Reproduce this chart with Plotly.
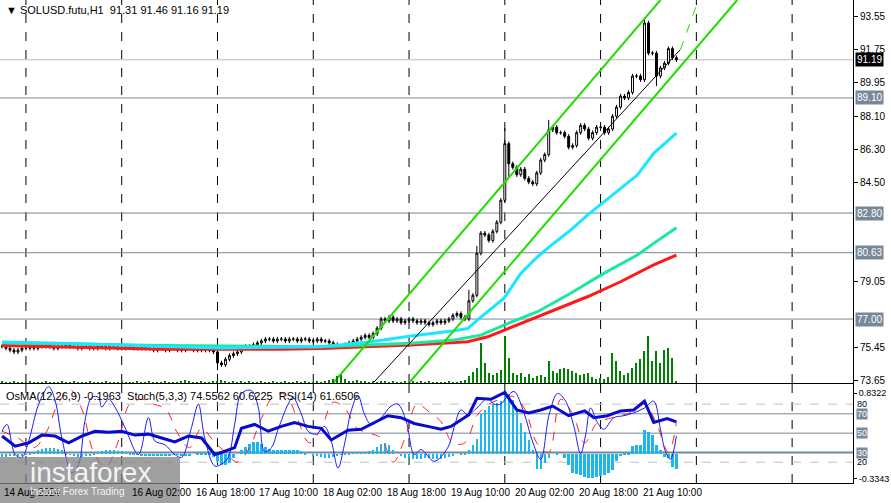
import plotly.graph_objects as go

# ---------------- data ----------------
# hours relative to 21 Aug 00:00 ; bars from t=-150 to t=19
t_start = -150
closes = [
    75.5,75.4,75.3,75.2,75.3,75.4,75.4,75.5,75.4,75.5,
    75.5,75.6,75.5,75.4,75.5,75.5,75.6,75.5,75.5,75.4,
    75.5,75.5,75.4,75.4,75.5,75.5,75.4,75.5,75.5,75.4,
    75.4,75.5,75.5,75.4,75.4,75.5,75.4,75.4,75.3,75.4,
    75.4,75.3,75.4,75.4,75.3,75.3,75.4,75.4,75.3,75.3,
    75.4,75.3,75.3,75.2,
    74.6,74.5,74.8,75.0,75.1,75.2,75.4,75.5,75.5,75.6,
    75.7,75.8,75.9,75.9,75.8,75.9,75.9,75.8,75.9,75.9,
    75.8,75.9,75.9,75.8,75.8,75.9,75.8,75.8,75.7,75.6,
    75.5,75.5,75.6,75.7,75.8,75.9,76.0,76.1,76.0,76.2,
    76.5,77.0,
    76.9,77.1,76.9,77.0,76.8,76.9,77.0,76.9,76.8,76.9,
    76.8,76.7,76.8,76.9,76.8,76.9,77.0,77.2,77.3,77.1,77.0,
    78.0,78.3,80.6,81.7,81.6,81.3,81.8,82.3,83.5,
    86.6,85.5,85.3,84.9,85.2,84.7,84.5,84.4,85.0,
    85.7,86.0,87.35,87.5,87.2,87.2,87.0,86.4,86.5,87.2,
    87.6,87.4,86.9,87.2,87.5,87.5,87.2,87.4,88.1,88.6,
    89.2,89.1,89.4,90.3,90.3,90.1,93.2,91.55,91.55,90.3,
    90.74,91.0,91.8,91.3,91.19,
]
first_open = 75.5
wick = 0.12
spike_highs = {-24: 87.45, 11: 93.45, -31: 81.0, -13: 87.9, -33: 78.6}
spike_lows = {-96: 74.2, -23: 84.8, 14: 89.75}

volumes = [
    2,1,1,2,1,1,1,2,1,1, 1,2,1,1,1,2,1,1,2,1,
    1,1,2,1,1,1,2,1,1,1, 2,1,1,1,2,1,1,2,1,1,
    1,2,1,1,1,2,3,2,1,1, 2,1,1,2,2,3,2,1,2,1,
    2,1,2,1,1,2,1,1,2,1, 1,2,1,1,2,1,2,1,1,2,
    1,2,3,4,7,8,4,2,2,3, 2,2,1,2,1,2,2,1,2,1,
    1,2,1,2,1,2,1,2,1,1,
    1,1,2,1,1,2,3,
    7,11,15,40,20,10,8,10,13,47,25,10,8,10,6,9,5,7,8,6,
    22,12,10,14,15,14,12,10,8,9,10,6,4,5,4,6,30,22,12,8,
    10,15,20,24,32,47,22,32,20,33,35,25,2,
]

osma = [
    -0.04,-0.04,-0.03,-0.03,-0.02,-0.02,-0.01,0.01,0.03,0.05,
    0.07,0.08,0.08,0.08,0.07,0.05,0.02,-0.01,-0.03,-0.04,
    -0.04,-0.03,-0.02,0.01,0.03,0.04,0.05,0.05,0.05,0.04,
    0.04,0.03,0.02,0.01,-0.01,-0.02,-0.03,-0.03,-0.03,-0.03,
    -0.03,-0.02,-0.02,-0.01,-0.01,-0.02,-0.03,-0.02,0.00,0.01,
    0.02,0.02,0.01,-0.04,-0.10,-0.15,-0.15,-0.12,-0.06,0.00,
    0.05,0.10,0.14,0.16,0.16,0.14,0.10,0.07,0.06,0.06,
    0.06,0.06,0.06,0.06,0.05,0.04,0.02,0.00,-0.02,-0.03,
    -0.04,-0.05,-0.05,-0.04,-0.03,-0.01,0.01,0.02,0.03,0.03,
    0.03,0.03,0.04,0.06,0.10,0.14,0.15,0.12,0.06,0.00,
    -0.03,-0.05,-0.06,-0.07,-0.07,-0.07,-0.06,-0.06,-0.07,-0.07,
    -0.07,-0.06,-0.04,-0.02,0.00,0.01,0.02,0.06,0.12,0.20,
    0.55,0.60,0.66,0.68,0.70,0.72,0.86,0.82,0.74,0.60,
    0.42,0.30,0.19,0.05,-0.20,-0.20,-0.12,-0.05,0.00,0.02,
    0.00,-0.05,-0.15,-0.26,-0.27,-0.29,-0.31,-0.33,-0.33,-0.31,
    -0.30,-0.28,-0.26,-0.22,-0.10,-0.03,0.01,0.02,0.11,0.12,
    0.12,0.33,0.30,0.26,0.12,0.05,-0.04,-0.06,-0.17,-0.20,
]

ma_fast_t = [-150,-130,-110,-95,-80,-70,-57.5,-47.5,-36.7,-33.3,-30.8,-26.7,-24.2,-20,-15.8,-11.7,-7.5,-3.3,0.8,5,9.2,13.3,16.7,19]
ma_fast_v = [75.75,75.65,75.5,75.42,75.45,75.48,75.76,76.07,76.36,76.48,76.95,77.67,78.14,79.5,80.41,81.15,81.87,82.69,83.42,84.15,84.88,86.07,86.7,87.17]
ma_mid_t = [-150,-110,-80,-70,-47.5,-36.7,-30,-24.2,-15.8,-7.5,0.8,9.2,13.3,19]
ma_mid_v = [75.7,75.55,75.5,75.48,75.68,75.85,76.12,76.67,77.40,78.41,79.5,80.5,81.14,82.0]
ma_slow_t = [-150,-110,-80,-70,-47.5,-33.3,-28.3,-20,-11.7,-3.3,5,13.3,19]
ma_slow_v = [75.55,75.35,75.35,75.39,75.58,75.76,76.03,76.76,77.49,78.22,79.04,79.96,80.5]

chan_upper_t = [-67, 15]
chan_upper_v = [73.50, 94.46]
chan_lower_t = [-48, 34.25]
chan_lower_v = [73.50, 94.46]
chan_mid_t = [-57, 20, 24.25]
chan_mid_v = [73.50, 91.75, 94.30]

rsi_t = [-150,-146.7,-143.3,-140,-136.7,-133.3,-130,-126.7,-123.3,-120,-116.7,-113.3,-110,-106.7,-103.3,-100,-96.7,-95,-91.7,-90,-86.7,-83.3,-80,-76.7,-73.3,-70,-67.5,-63.3,-60,-56.7,-53.3,-50,-46.7,-43.3,-40,-37.5,-33,-31,-27.5,-24,-21,-18,-15,-12,-8,-4,-1.7,1.7,5,8.3,11,13.3,16.7,19]
rsi_v = [47,36.5,40,48,47,40,47,52,51,52,48,49,45,41,47,45,28,30,35,55,59,52,57,61,57,55,43,53,54,61,68,66,60,57,54,57,69,86,85,92,74,71,74,78,68,73,66,68,73,74,83,61,65,61.65]

stoch_t = [-150,-148.75,-146.7,-145,-143.3,-140.8,-138.3,-136.7,-135,-132.5,-130.8,-129.2,-127.5,-125.8,-125,-123.3,-121.7,-119.2,-115.8,-113.3,-111.7,-109.2,-106.7,-105,-102.5,-100.8,-99.2,-96.7,-95,-93.3,-91.7,-90,-87.5,-85.8,-84.2,-82.5,-80.8,-78.3,-77.1,-75,-73.3,-71.25,-69.2,-67.5,-65.8,-64.2,-62.5,-60.8,-59.2,-57.5,-55,-52.5,-50.8,-48.75,-46.7,-45,-41.7,-38.3,-36.7,-35,-33.3,-31,-28.3,-26.7,-25,-23.75,-21.7,-19.2,-17.1,-15,-12.9,-10.8,-8.75,-6.7,-5,-3.75,-2.5,-0.8,0.8,3.3,5.8,8.3,11,13.3,15,16.25,17.5,19]
stoch_v = [52,59,28,25,42,80,98,84,45,9,18,63,87,87,77,85,77,56,28,66,42,38,28,25,56,80,45,16,18,25,59,91,94,77,31,35,54,80,87,70,52,49,57,42,14,38,73,89,70,59,66,78,80,63,28,33,21,35,56,74,69,76,86,80,80,86,93,71,42,23,69,91,83,57,29,48,76,61,54,66,68,71,76,83,54,31,23,47,74.56]

sig_t = [-150,-146,-142,-139,-136,-133,-130,-127,-124,-121,-118,-115,-112,-109,-106,-103,-100,-97,-94,-91,-88,-85,-82,-79,-76,-73,-70,-67,-64,-61,-58,-55,-52,-49,-46,-43,-40,-37,-34,-31,-28,-25,-22,-19,-16,-13,-10,-7,-4,-1,2,5,8,11,14,17,19]
sig_v = [52,45,35,50,80,95,75,30,15,40,80,85,80,75,50,35,55,42,30,20,35,65,88,90,65,40,55,82,75,55,50,45,20,45,80,72,62,40,40,68,80,85,88,75,40,30,85,70,40,60,65,68,72,80,60,30,60.62]

price_ticks = [93.55,91.75,89.95,88.10,86.30,84.50,79.05,75.45,73.65]
level_boxes = [89.10, 82.80, 80.63, 77.00]
last_price = 91.19
day_grid = [-144,-120,-96,-72,-48,-24,0,24,48]
time_label_t = [-150,-118,-102,-86,-70,-54,-38,-22,-6,10]
time_labels = ["14 Aug 2024","16 Aug 02:00","16 Aug 18:00","17 Aug 10:00","18 Aug 02:00",
               "18 Aug 18:00","19 Aug 10:00","20 Aug 02:00","20 Aug 18:00","21 Aug 10:00"]
osc_levels = [80, 70, 50, 30, 20]

# ---------------- build ----------------
ts = [t_start + i for i in range(len(closes))]
opens = [first_open] + closes[:-1]
highs = [spike_highs.get(t, max(o, c) + wick) for t, o, c in zip(ts, opens, closes)]
lows = [spike_lows.get(t, min(o, c) - wick) for t, o, c in zip(ts, opens, closes)]

W, H = 891, 503
XR = [-150.5, 63.25]
FONT = "Liberation Sans"
FS = 10
fig = go.Figure()

fig.add_trace(go.Bar(x=ts, y=volumes, marker_color="#008000", width=0.35,
                     xaxis="x", yaxis="y2", showlegend=False))
fig.add_trace(go.Scatter(x=ma_slow_t, y=ma_slow_v, mode="lines", line=dict(color="#ff1a1a", width=3), showlegend=False))
fig.add_trace(go.Scatter(x=ma_mid_t, y=ma_mid_v, mode="lines", line=dict(color="#19e8a0", width=3), showlegend=False))
fig.add_trace(go.Scatter(x=ma_fast_t, y=ma_fast_v, mode="lines", line=dict(color="#1ae6ff", width=3), showlegend=False))
for tt, vv in [(chan_upper_t, chan_upper_v), (chan_lower_t, chan_lower_v)]:
    fig.add_trace(go.Scatter(x=tt, y=vv, mode="lines", line=dict(color="#22dd00", width=2), showlegend=False))
fig.add_trace(go.Scatter(x=chan_mid_t[:2], y=chan_mid_v[:2], mode="lines", line=dict(color="black", width=1), showlegend=False))
fig.add_trace(go.Scatter(x=chan_mid_t[1:], y=chan_mid_v[1:], mode="lines", line=dict(color="#22dd00", width=1, dash="dash"), showlegend=False))
fig.add_trace(go.Candlestick(x=ts, open=opens, high=highs, low=lows, close=closes,
                             increasing=dict(line=dict(color="black", width=1), fillcolor="white"),
                             decreasing=dict(line=dict(color="black", width=1), fillcolor="black"),
                             whiskerwidth=0, showlegend=False))
fig.add_trace(go.Bar(x=ts, y=osma, marker_color="#1ab6ee", width=0.6, xaxis="x2", yaxis="y3", showlegend=False))
fig.add_trace(go.Scatter(x=sig_t, y=sig_v, mode="lines", line=dict(color="#ff2020", width=1, dash="dash", shape="spline"),
                         xaxis="x2", yaxis="y4", showlegend=False))
fig.add_trace(go.Scatter(x=stoch_t, y=stoch_v, mode="lines", line=dict(color="#1a1aff", width=1, shape="spline"),
                         xaxis="x2", yaxis="y4", showlegend=False))
fig.add_trace(go.Scatter(x=rsi_t, y=rsi_v, mode="lines", line=dict(color="#0a0acc", width=3),
                         xaxis="x2", yaxis="y4", showlegend=False))

xd = [0, 853 / W]
main_dom = [(H - 383) / H, 1]
sub_dom = [(H - 483) / H, (H - 384) / H]
fig.update_layout(
    template="none",
    autosize=False,
    width=W, height=H, margin=dict(l=0, r=0, t=0, b=0, autoexpand=False),
    paper_bgcolor="white", plot_bgcolor="white", bargap=0,
    font=dict(family=FONT, size=FS, color="black"),
    xaxis=dict(domain=xd, range=XR, showgrid=False, showticklabels=False, zeroline=False, automargin=False,
               rangeslider=dict(visible=False), showline=True, linecolor="black", mirror=True),
    yaxis=dict(domain=main_dom, range=[73.50, 94.46], side="right", tickvals=price_ticks, automargin=False,
               ticktext=[f"{v:.2f}" for v in price_ticks], ticks="outside", ticklen=4, tickcolor="black",
               showgrid=False, zeroline=False, showline=True, linecolor="black", mirror=True),
    yaxis2=dict(domain=main_dom, range=[0, 383], overlaying="y", visible=False, automargin=False),
    xaxis2=dict(domain=xd, range=XR, anchor="y3", showgrid=False, showticklabels=False, zeroline=False,
                automargin=False, showline=True, linecolor="black", mirror=True),
    yaxis3=dict(domain=sub_dom, range=[-0.395, 0.955], side="right", tickvals=[0.8322, -0.3343],
                ticktext=["0.8322", "-0.3343"], ticks="outside", ticklen=3, anchor="x2", automargin=False,
                tickfont=dict(size=9), tickcolor="black",
                showgrid=False, zeroline=False, showline=True, linecolor="black", mirror=True),
    yaxis4=dict(domain=sub_dom, range=[-1.5, 100.8], overlaying="y3", visible=False, automargin=False),
)

shapes = []
for t in day_grid:
    for xr, yr in [("x", "y"), ("x2", "y4")]:
        shapes.append(dict(type="line", xref=xr, yref=yr + " domain", x0=t, x1=t, y0=0, y1=1,
                           line=dict(color="black", width=1, dash="dash"), layer="below"))
shapes.append(dict(type="line", xref="x domain", yref="y", x0=0, x1=1, y0=last_price, y1=last_price,
                   line=dict(color="#b8b8b8", width=1), layer="below"))
for v in level_boxes:
    shapes.append(dict(type="line", xref="x domain", yref="y", x0=0, x1=1, y0=v, y1=v,
                       line=dict(color="#778899", width=1), layer="below"))
for lv in osc_levels:
    dashed = lv in (80, 20)
    shapes.append(dict(type="line", xref="x2 domain", yref="y4", x0=0, x1=1, y0=lv, y1=lv,
                       line=dict(color="#c0c0c0" if dashed else "#778899", width=2 if lv == 30 else 1,
                                 dash="dash" if dashed else "solid"), layer="below"))
shapes.append(dict(type="rect", xref="paper", yref="paper", x0=0, x1=180 / W, y0=0, y1=(H - 457) / H,
                   fillcolor="rgba(128,128,128,0.75)", line=dict(width=0)))
fig.update_layout(shapes=shapes)

ann = []
ann.append(dict(xref="paper", yref="paper", x=4 / W, y=1 - 2 / H, xanchor="left", yanchor="top",
                text="▼ SOLUSD.futu,H1  91.31 91.46 91.16 91.19", showarrow=False, font=dict(size=11)))
ann.append(dict(xref="paper", yref="paper", x=4 / W, y=1 - 388 / H, xanchor="left", yanchor="top",
                text="OsMA(12,26,9) -0.1963  Stoch(5,3,3) 74.5562 60.6225  RSI(14) 61.6506", showarrow=False,
                font=dict(size=11)))
ann.append(dict(xref="paper", yref="y", x=855 / W, y=last_price, xanchor="left", yanchor="middle",
                text="91.19", showarrow=False, bgcolor="black", font=dict(color="white"), borderpad=1))
for v in level_boxes:
    ann.append(dict(xref="paper", yref="y", x=855 / W, y=v, xanchor="left", yanchor="middle",
                    text=f"{v:.2f}", showarrow=False, bgcolor="#778899", font=dict(color="white"), borderpad=1))
for lv, txt, box in [(80, "80", False), (70, "70", True), (50, "50", True), (30, "30", True), (20, "20", False)]:
    ann.append(dict(xref="paper", yref="y4", x=856 / W, y=lv, xanchor="left", yanchor="middle",
                    text=txt, showarrow=False, bgcolor="#778899" if box else None,
                    font=dict(color="white" if box else "black", size=9), borderpad=0))
for t, txt in zip(time_label_t, time_labels):
    ann.append(dict(xref="x", yref="paper", x=t, y=(H - 492) / H, xanchor="left", yanchor="middle",
                    text=txt, showarrow=False))
ann.append(dict(xref="paper", yref="paper", x=28 / W, y=(H - 472) / H, xanchor="left", yanchor="middle",
                text="instaforex", showarrow=False, font=dict(size=28, color="rgba(255,255,255,0.9)")))
ann.append(dict(xref="paper", yref="paper", x=28 / W, y=(H - 491) / H, xanchor="left", yanchor="middle",
                text="Instant Forex Trading", showarrow=False, font=dict(size=10, color="rgba(255,255,255,0.9)")))
fig.update_layout(annotations=ann)

fig.write_html("out.html", config={"responsive": False, "displayModeBar": False},
               post_script="document.body.style.margin='0';document.body.style.overflow='hidden';")
